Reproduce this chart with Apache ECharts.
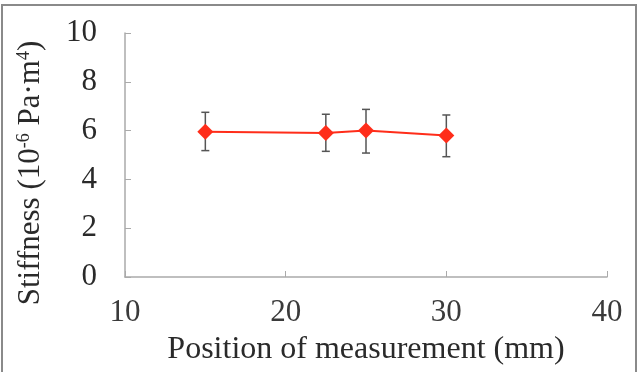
<!doctype html>
<html>
<head>
    <meta charset="UTF-8">
    <title>Stiffness vs position</title>
    <script src="https://cdn.jsdelivr.net/npm/echarts@6/dist/echarts.min.js"></script>
    <style>
        html, body { margin: 0; padding: 0; background: #fff; }
        #main { width: 641px; height: 372px; }
    </style>
</head>
<body>
<div id="main"></div>
<script type="text/javascript">
    // measurement positions (mm) and stiffness (10^-6 Pa·m^4)
    var positions = [15, 22.5, 25, 30];
    var stiffness = [5.95, 5.9, 6.0, 5.8];
    var errLow = [5.18, 5.15, 5.08, 4.93];
    var errHigh = [6.75, 6.67, 6.87, 6.64];

    var xTicks = [10, 20, 30, 40];
    var yTicks = [0, 2, 4, 6, 8, 10];

    var lineData = [];
    var errData = [];
    for (var i = 0; i < positions.length; i++) {
        lineData.push([positions[i], stiffness[i]]);
        errData.push([positions[i], errLow[i], errHigh[i]]);
    }

    var font = 'Liberation Serif';
    var myChart = echarts.init(document.getElementById('main'));

    var option = {
        backgroundColor: '#fff',
        animation: false,
        textStyle: { fontFamily: font },
        graphic: [{
            type: 'rect',
            shape: { x: 2, y: 5, width: 634, height: 380 },
            style: { fill: 'none', stroke: '#8a8a8a', lineWidth: 2 },
            silent: true
        }],
        grid: { left: 125, right: 34, top: 33, bottom: 95 },
        xAxis: {
            type: 'value',
            min: xTicks[0],
            max: xTicks[xTicks.length - 1],
            interval: 10,
            name: 'Position of measurement (mm)',
            nameLocation: 'middle',
            nameGap: 57,
            nameTextStyle: { fontFamily: font, fontSize: 32, color: '#2a2a2a' },
            axisLine: { lineStyle: { color: '#aaa', width: 1.5 } },
            axisTick: { inside: true, length: 6, lineStyle: { color: '#aaa' } },
            axisLabel: { fontFamily: font, fontSize: 31, color: '#3a3a3a', margin: 20 },
            splitLine: { show: false }
        },
        yAxis: {
            type: 'value',
            min: yTicks[0],
            max: yTicks[yTicks.length - 1],
            interval: 2,
            name: 'Stiffness (10{sup|-6} Pa·m{sup|4})',
            nameLocation: 'middle',
            nameRotate: 90,
            nameGap: 78,
            nameTextStyle: {
                fontFamily: font, fontSize: 31, color: '#2a2a2a',
                padding: [0, 36, 0, 0],
                rich: {
                    sup: { fontFamily: font, fontSize: 18, color: '#2a2a2a', padding: [0, 0, 14, 0] }
                }
            },
            axisLine: { show: true, lineStyle: { color: '#aaa', width: 1.5 } },
            axisTick: { show: true, inside: true, length: 6, lineStyle: { color: '#aaa' } },
            axisLabel: { fontFamily: font, fontSize: 31, color: '#2a2a2a', margin: 28 },
            splitLine: { show: false }
        },
        series: [{
            type: 'custom',
            data: errData,
            z: 1,
            renderItem: function (params, api) {
                var x = api.value(0);
                var lo = api.coord([x, api.value(1)]);
                var hi = api.coord([x, api.value(2)]);
                var cap = 4;
                var st = { stroke: '#555', lineWidth: 1.5 };
                return {
                    type: 'group',
                    children: [
                        { type: 'line', shape: { x1: lo[0], y1: lo[1], x2: hi[0], y2: hi[1] }, style: st },
                        { type: 'line', shape: { x1: lo[0] - cap, y1: lo[1], x2: lo[0] + cap, y2: lo[1] }, style: st },
                        { type: 'line', shape: { x1: hi[0] - cap, y1: hi[1], x2: hi[0] + cap, y2: hi[1] }, style: st }
                    ]
                };
            }
        }, {
            type: 'line',
            data: lineData,
            z: 2,
            symbol: 'diamond',
            symbolSize: 16,
            lineStyle: { color: '#ff2d1a', width: 2 },
            itemStyle: { color: '#ff2d1a' }
        }]
    };
    myChart.setOption(option);
</script>
</body>
</html>
